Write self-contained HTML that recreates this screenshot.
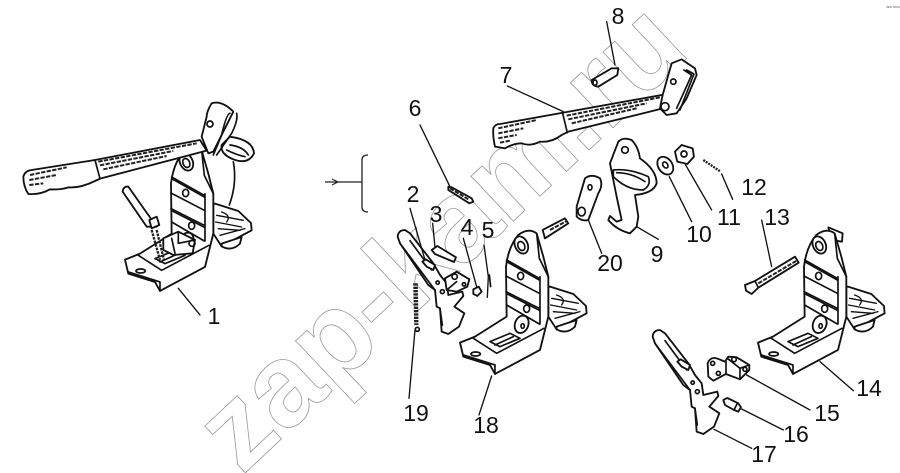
<!DOCTYPE html>
<html><head><meta charset="utf-8"><style>
html,body{margin:0;padding:0;background:#fff}
svg{display:block}
.l{font-family:"Liberation Sans",sans-serif;font-size:23px;fill:#111;text-anchor:middle}
.p{fill:#fff;stroke:#111;stroke-width:5.5;stroke-linejoin:round;stroke-linecap:round}
.n{fill:none;stroke:#111;stroke-width:5;stroke-linejoin:round;stroke-linecap:round}
.t{fill:none;stroke:#111;stroke-width:4;stroke-linecap:round}
.h{fill:none;stroke:#222;stroke-width:6;stroke-dasharray:13 4}
.w{font-family:"Liberation Sans",sans-serif;font-weight:bold;font-size:117px;fill:#fff;stroke:#999;stroke-width:.8}
</style></head><body>
<svg width="900" height="473" viewBox="0 0 900 473" xmlns="http://www.w3.org/2000/svg" xmlns:xlink="http://www.w3.org/1999/xlink">
<rect width="900" height="473" fill="#fff"/>
<text x="242" y="476" transform="rotate(-43.2 242 476)" class="w">zap-kam.ru</text>
<text x="893" y="8" font-family="'Liberation Sans',sans-serif" font-size="4" fill="#555" text-anchor="middle">am ooo</text>

<defs>
<g id="br" transform="translate(380,170) scale(.3333)">
<path class="p" d="M510 350L580 372L618 408L620 430L530 478L505 440L505 350Z"/>
<path class="t" d="M515 385L595 400M512 405L590 420M520 425L585 430M525 445L600 425M530 375Q560 385 545 405"/>
<path class="p" d="M530 478Q560 495 585 470L590 450L530 470Z"/>
<path class="p" d="M240 518L285 500L380 440L378 290Q385 230 415 195Q445 172 470 190L490 260L505 320L505 440L495 480L480 540L345 612L330 585L250 560Z"/>
<path class="n" d="M380 270L478 325M378 318L478 370M378 365L478 415M380 405L478 462M480 320L480 462M470 190L478 265L505 320"/>
<path class="n" d="M382 276L478 330M382 372L478 421"/>
<path class="n" d="M280 505L350 550L492 475M345 612L345 585L250 555M330 515L390 490L420 505L360 530ZM345 525L400 500"/>
<ellipse class="p" cx="424" cy="225" rx="19" ry="27" transform="rotate(-25 424 225)"/>
<ellipse class="n" cx="424" cy="228" rx="10" ry="14" transform="rotate(-25 424 228)"/>
<ellipse class="n" cx="422" cy="318" rx="9" ry="11"/>
<ellipse class="n" cx="440" cy="416" rx="9" ry="11"/>
<ellipse class="p" cx="425" cy="463" rx="20" ry="27" transform="rotate(20 425 463)"/>
<ellipse class="n" cx="428" cy="468" rx="5" ry="7"/>
<ellipse class="n" cx="287" cy="552" rx="14" ry="6"/>
</g>
<g id="lv" transform="translate(640,320) scale(.3333)">
<path class="p" d="M38 50Q40 30 60 30L75 40L145 130L165 165L185 190L190 225L232 215L235 228L208 260L238 280L222 320L190 342L170 335L165 265L155 260L150 210L130 195L45 70Z"/>
<path class="n" d="M45 70L150 210M75 62L140 150M165 265L172 315"/>
<path class="p" d="M112 125L122 118L150 135L145 150L125 140Z"/>
<circle class="n" cx="158" cy="188" r="5"/>
<circle class="n" cx="172" cy="215" r="6"/>
</g>
</defs>

<!-- 1 assembly -->
<use xlink:href="#br" href="#br" transform="translate(-335,-83)"/>
<g transform="translate(0,80) scale(.3333)">
<path class="p" d="M700 238Q660 222 665 195L690 170Q760 180 762 220Q745 255 700 238Z"/>
<path class="n" d="M690 195Q730 200 745 225M680 210Q710 225 735 230M700 245Q712 310 688 375"/>
<path class="p" d="M640 215L700 95Q665 60 635 70Q620 95 620 110L605 170L625 220Z"/>
<path class="n" d="M690 100Q680 100 665 165L640 225M710 100Q715 120 695 160L650 225"/>
<path class="p" d="M70 290Q75 272 95 270L285 240L600 180L620 212L300 296L285 303Q240 325 205 322Q180 330 150 328Q120 345 85 342Q70 320 70 290Z"/>
<path class="n" d="M285 240L300 296"/>
<path class="h" d="M295 245L590 190M300 256L520 213M310 268L500 228M90 285L200 262M88 300L170 285M88 315L130 310"/>
<circle class="n" cx="630" cy="132" r="9"/>
<path class="p" d="M368 335Q370 318 385 320L445 405L470 440L440 440Z"/>
<path class="p" d="M448 420L470 410L478 435L455 445Z"/>
<path class="h" d="M455 450L480 540M470 450L492 540" style="stroke-width:7;stroke-dasharray:8 3"/>
<path class="p" d="M490 475L535 455L585 480L578 520L520 525L490 510Z"/>
<path class="n" d="M535 455L535 490L585 480M515 475L525 520"/>
<circle class="n" cx="576" cy="490" r="9"/>
<path class="t" d="M535 625L600 705"/>
</g>

<!-- arrow and bracket -->
<path d="M325 182H362" stroke="#222" stroke-width="1.3" fill="none"/>
<path d="M332 179L338 182L332 185" stroke="#222" stroke-width="1.1" fill="none"/>
<path d="M368 155Q362 155 362 160V207Q362 212 368 212" stroke="#222" stroke-width="1.3" fill="none"/>

<!-- 18 bracket + bolt -->
<g transform="translate(380,170) scale(.3333)">
<path class="p" d="M488 180L555 145L565 160L495 205Z"/>
<path class="h" d="M510 180L562 152"/>
</g>
<use xlink:href="#br" href="#br"/>

<!-- 14 bracket -->
<g transform="translate(640,220) scale(.3333)">
<path class="p" d="M565 22L608 40L606 65L575 60Z"/>
</g>
<use xlink:href="#br" href="#br" transform="translate(298,0)"/>
<g transform="translate(640,220) scale(.3333)">
<path class="p" d="M315 195L345 183L465 110L476 128L355 203L335 222L318 212Z"/>
<path class="n" d="M345 183L355 203"/>
<path class="h" d="M355 190L470 122"/>
<path class="t" d="M540 425L640 512"/>
</g>

<!-- 15, 16, 17 -->
<use xlink:href="#lv" href="#lv"/>
<g transform="translate(640,320) scale(.3333)">
<path class="p" d="M203 130Q210 110 230 115L255 125L265 110L290 112L328 135L328 150L300 178L258 162L220 182L205 170Z"/>
<path class="n" d="M258 125L258 162M300 145L300 178M262 115L300 145L328 135"/>
<circle class="n" cx="218" cy="130" r="6"/><circle class="n" cx="235" cy="160" r="6"/><circle class="n" cx="315" cy="148" r="6"/><circle class="n" cx="282" cy="118" r="7"/>
<path class="p" d="M250 240L262 234L295 250L303 262L295 275L282 270L255 255Z"/>
<path class="n" d="M282 270L292 250"/>
</g>
<g transform="translate(640,220) scale(.3333)">
<path class="t" d="M320 465L510 570"/>
<path class="t" d="M305 567L430 630"/>
<path class="t" d="M222 628L335 685"/>
</g>

<!-- lever 2 -->
<use xlink:href="#lv" href="#lv" transform="translate(-255,-100)"/>
<g transform="translate(380,170) scale(.3333)">
<path class="p" d="M195 325L230 305L268 328L262 350L230 365L200 360Z"/>
<path class="n" d="M230 335L200 360"/>
<circle class="n" cx="224" cy="320" r="8"/><circle class="n" cx="252" cy="343" r="5"/>
</g>

<!-- small parts left group -->
<g transform="translate(380,170) scale(.3333)">
<path class="t" d="M120 -135L210 50"/>
<path class="p" d="M205 50L215 52L275 85L280 95L268 100L205 60Z"/>
<path class="h" d="M210 55L265 88"/>
<path class="t" d="M90 115L135 270"/>
<path class="t" d="M158 160L165 232"/>
<path class="p" d="M155 240L172 228L228 262L222 276L165 252Z"/>
<path class="t" d="M250 205L290 350"/>
<path class="p" d="M280 358L296 350L305 365L292 378L280 372Z"/>
<path class="t" d="M312 225L325 320M325 320L322 382"/>
<path class="n" d="M328 315L332 350"/>
<path class="h" d="M103 340L106 465M110 340L112 465" style="stroke-width:7;stroke-dasharray:7 3"/>
<path class="t" d="M105 480L87 685"/>
<circle class="n" cx="112" cy="478" r="6"/>
<path class="t" d="M335 618L297 735"/>
</g>

<!-- 7 handle, 8 pin -->
<g transform="translate(480,0) scale(.3333)">
<path class="p" d="M40 385Q45 372 60 372L250 338L545 285L570 320L265 395L245 405Q215 428 180 425Q150 440 125 430Q100 430 75 445L45 440Q38 410 40 385Z"/>
<path class="n" d="M248 340L262 398"/>
<path class="h" d="M260 347L540 292M265 358L500 310M275 370L470 325M55 385L170 360M55 400L130 385M55 415L110 405M60 428L90 422"/>
<path class="p" d="M548 285L565 225L575 190L605 178L645 205L650 225L620 295L590 340L560 345L540 325Z"/>
<path class="n" d="M612 210L635 225L590 325M620 210L642 222L600 330"/>
<circle class="n" cx="580" cy="245" r="8"/><circle class="n" cx="555" cy="320" r="12"/>
<path class="t" d="M380 65L405 195M82 258L250 335"/>
</g>
<g transform="translate(400,0) scale(.3333)">
<path class="p" d="M575 240L635 205L655 205L652 225L595 260Q575 258 575 240Z"/>
<ellipse class="n" cx="585" cy="248" rx="6" ry="8"/>
<!-- 9 -->
<path class="p" d="M630 490L655 425Q670 410 695 420Q715 440 720 475Q770 510 770 550Q760 580 705 585L715 650L710 680L690 700Q650 690 625 660L630 648L650 665L665 660L650 590Z"/>
<path class="n" d="M640 510Q690 505 745 530Q755 555 730 570Q680 570 640 530ZM650 518Q695 518 735 545"/>
<circle class="n" cx="675" cy="450" r="10"/>
<path class="t" d="M710 680L775 718"/>
<!-- 20 -->
<path class="p" d="M530 620L555 535Q575 520 600 535Q610 555 595 580L565 660Q545 665 530 650Z"/>
<ellipse class="n" cx="570" cy="562" rx="6" ry="8"/><ellipse class="n" cx="545" cy="635" rx="11" ry="13"/>
<path class="t" d="M565 660L605 760"/>
<!-- 10 -->
<ellipse class="p" cx="796" cy="497" rx="21" ry="29" transform="rotate(-35 796 497)"/>
<ellipse class="n" cx="796" cy="495" rx="7" ry="10" transform="rotate(-35 796 495)"/>
<path class="t" d="M808 530L875 665"/>
<!-- 11 -->
<path class="p" d="M825 455L845 435L878 445L882 470L862 492L832 485Z"/>
<circle class="n" cx="852" cy="462" r="9"/>
<path class="t" d="M857 495L935 630"/>
<!-- 12 -->
<path class="h" d="M910 480L962 515" style="stroke-dasharray:6 3;stroke-width:7"/>
<path class="t" d="M965 522L998 598"/>
</g>
<g transform="translate(640,220) scale(.3333)">
<path class="t" d="M365 0L395 140"/>
</g>

<text class="l" x="214" y="324">1</text>
<text class="l" x="413" y="202">2</text>
<text class="l" x="436" y="222">3</text>
<text class="l" x="467" y="235">4</text>
<text class="l" x="488" y="238">5</text>
<text class="l" x="415" y="116">6</text>
<text class="l" x="506" y="83">7</text>
<text class="l" x="618" y="24">8</text>
<text class="l" x="657" y="262">9</text>
<text class="l" x="699" y="242">10</text>
<text class="l" x="729" y="225">11</text>
<text class="l" x="754" y="195">12</text>
<text class="l" x="777" y="225">13</text>
<text class="l" x="869" y="396">14</text>
<text class="l" x="827" y="421">15</text>
<text class="l" x="796" y="442">16</text>
<text class="l" x="764" y="462">17</text>
<text class="l" x="486" y="433">18</text>
<text class="l" x="416" y="421">19</text>
<text class="l" x="610" y="271">20</text>
</svg>
</body></html>
